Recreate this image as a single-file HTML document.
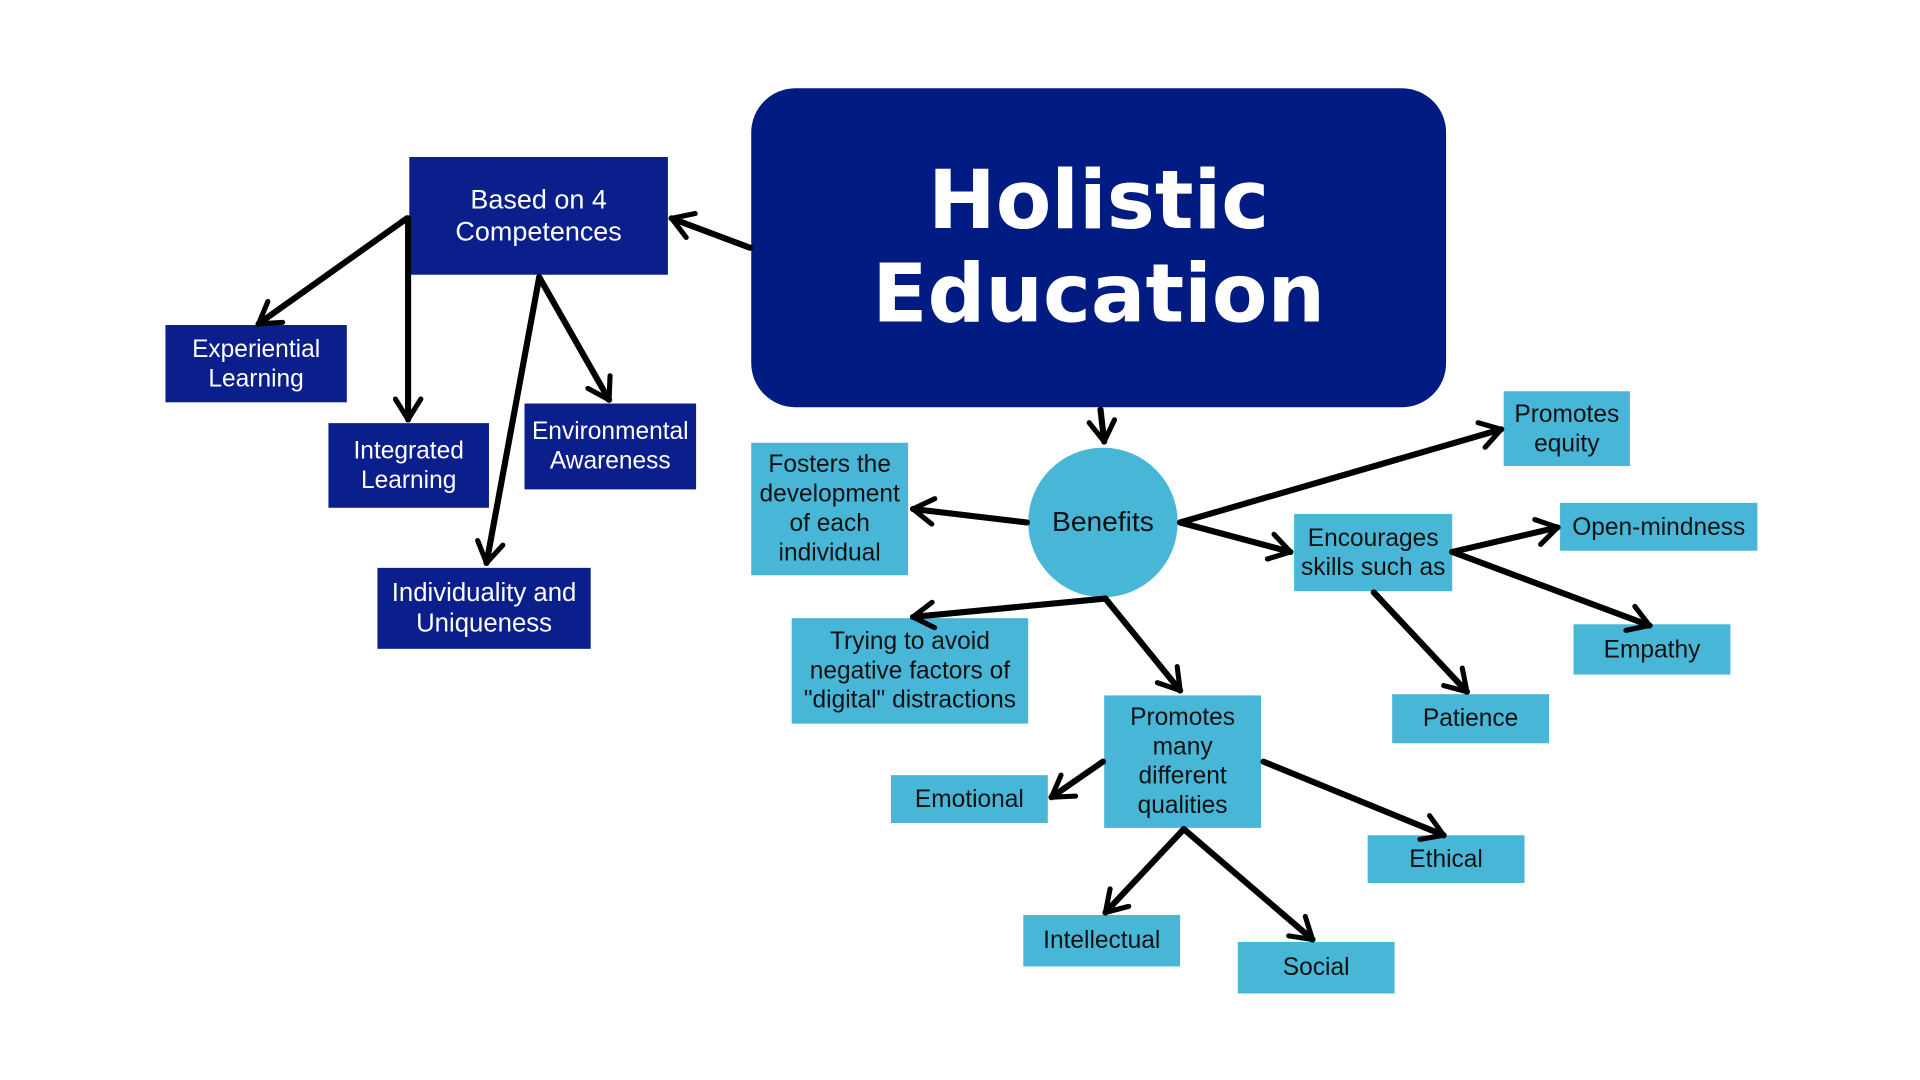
<!DOCTYPE html>
<html><head><meta charset="utf-8">
<style>
html,body{margin:0;padding:0;width:1920px;height:1080px;overflow:hidden;background:#fff}
#w{position:absolute;left:0;top:0;width:1560px;height:878px;transform-origin:0 0;transform:scale(1.2255,1.2265);font-family:"Liberation Sans","DejaVu Sans",sans-serif}
.b{position:absolute;display:flex;align-items:center;justify-content:center;text-align:center;box-sizing:border-box;line-height:1.2;white-space:nowrap}
.d{background:#0b1f8c;color:#fff;font-size:20px}
.l{background:#47b6d7;color:#111;font-size:20px}
svg{position:absolute;left:0;top:0}
</style></head><body><div id="w">
<div class="b" style="left:613px;top:72px;width:567px;height:260px;border-radius:36px;background:#001b82;color:#fff;font-family:'DejaVu Sans',sans-serif;font-weight:bold;font-size:66px;line-height:1.15">Holistic<br>Education</div>
<div class="b d" style="left:334px;top:128px;width:211px;height:96px;font-size:22px">Based on 4<br>Competences</div>
<div class="b d" style="left:135px;top:265px;width:148px;height:63px">Experiential<br>Learning</div>
<div class="b d" style="left:268px;top:345px;width:131px;height:69px">Integrated<br>Learning</div>
<div class="b d" style="left:428px;top:329px;width:140px;height:70px">Environmental<br>Awareness</div>
<div class="b d" style="left:308px;top:463px;width:174px;height:66px;font-size:21px">Individuality and<br>Uniqueness</div>
<div class="b l" style="left:613px;top:361px;width:128px;height:108px">Fosters the<br>development<br>of each<br>individual</div>
<div class="b l" style="left:839px;top:365px;width:122px;height:122px;border-radius:50%;font-size:23px">Benefits</div>
<div class="b l" style="left:1227px;top:319px;width:103px;height:61px">Promotes<br>equity</div>
<div class="b l" style="left:1056px;top:419px;width:129px;height:63px">Encourages<br>skills such as</div>
<div class="b l" style="left:1273px;top:410px;width:161px;height:39px">Open-mindness</div>
<div class="b l" style="left:1284px;top:509px;width:128px;height:41px">Empathy</div>
<div class="b l" style="left:1136px;top:566px;width:128px;height:40px">Patience</div>
<div class="b l" style="left:646px;top:504px;width:193px;height:86px">Trying to avoid<br>negative factors of<br>"digital" distractions</div>
<div class="b l" style="left:901px;top:567px;width:128px;height:108px">Promotes<br>many<br>different<br>qualities</div>
<div class="b l" style="left:727px;top:632px;width:128px;height:39px">Emotional</div>
<div class="b l" style="left:1116px;top:681px;width:128px;height:39px">Ethical</div>
<div class="b l" style="left:835px;top:746px;width:128px;height:42px">Intellectual</div>
<div class="b l" style="left:1010px;top:768px;width:128px;height:42px">Social</div>
<svg width="1560" height="878">
<defs><marker id="a" viewBox="0 0 12 12" refX="10" refY="6" markerWidth="5" markerHeight="5" orient="auto" markerUnits="strokeWidth"><polyline points="2,1 10,6 2,11" fill="none" stroke="#000" stroke-width="2" stroke-linecap="round" stroke-linejoin="round"/></marker></defs>
<g stroke="#000" stroke-width="5" stroke-linecap="round" fill="none" marker-end="url(#a)">
<line x1="612" y1="202" x2="548" y2="178"/>
<line x1="332" y1="178" x2="211" y2="264"/>
<line x1="333" y1="178" x2="333" y2="342"/>
<line x1="440" y1="226" x2="497" y2="326"/>
<line x1="440" y1="226" x2="397" y2="459"/>
<line x1="898" y1="334" x2="901" y2="360"/>
<line x1="838" y1="426" x2="745" y2="415"/>
<line x1="963" y1="426" x2="1225" y2="350"/>
<line x1="963" y1="426" x2="1053" y2="450"/>
<line x1="902" y1="488" x2="745" y2="503"/>
<line x1="902" y1="488" x2="963" y2="563"/>
<line x1="1185" y1="450" x2="1271" y2="430"/>
<line x1="1185" y1="450" x2="1346" y2="510"/>
<line x1="1121" y1="483" x2="1197" y2="564"/>
<line x1="900" y1="621" x2="858" y2="650"/>
<line x1="1031" y1="621" x2="1178" y2="681"/>
<line x1="966" y1="676" x2="902" y2="744"/>
<line x1="966" y1="676" x2="1071" y2="766"/>
</g></svg>
</div></body></html>
